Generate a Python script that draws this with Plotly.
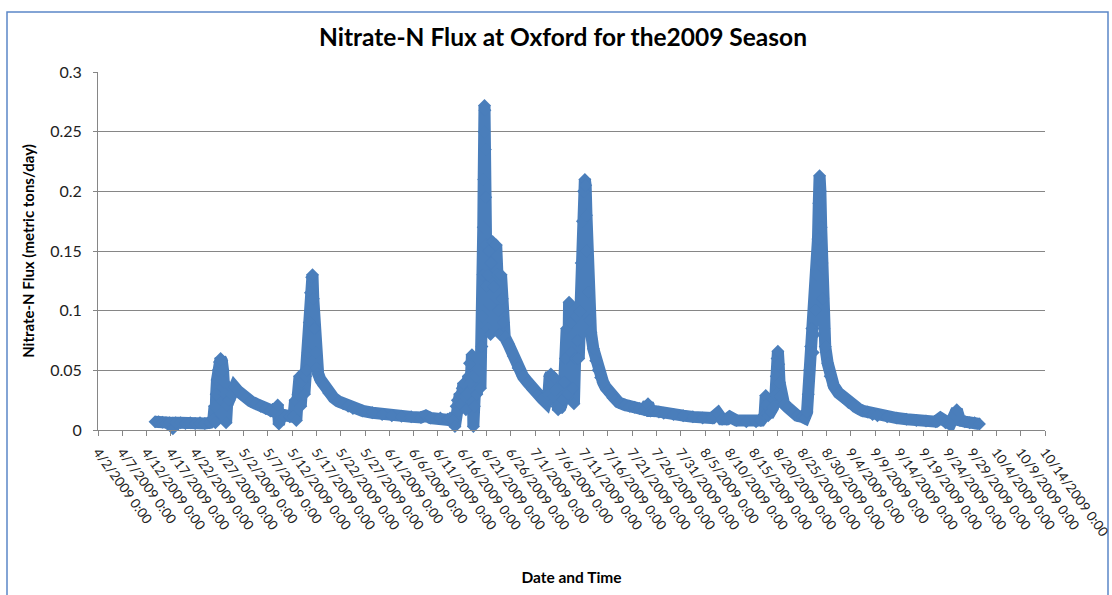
import plotly.graph_objects as go

# ---- data (date/time, Nitrate-N flux in metric tons/day) ----
apr_times = ["2009-04-13 18:00", "2009-04-14 12:00", "2009-04-15 06:00", "2009-04-16 00:00", "2009-04-16 18:00",
             "2009-04-17 10:00", "2009-04-18 00:00", "2009-04-19 00:00", "2009-04-20 00:00", "2009-04-21 00:00",
             "2009-04-22 00:00", "2009-04-23 00:00", "2009-04-24 00:00", "2009-04-25 00:00", "2009-04-25 18:00",
             "2009-04-26 00:00", "2009-04-26 04:00", "2009-04-26 08:00", "2009-04-26 12:00", "2009-04-26 18:00",
             "2009-04-27 00:00", "2009-04-27 06:00", "2009-04-27 12:00", "2009-04-27 18:00", "2009-04-28 00:00",
             "2009-04-28 05:00", "2009-04-28 09:00", "2009-04-28 14:00", "2009-04-29 00:00", "2009-04-29 12:00",
             "2009-04-30 03:00", "2009-04-30 18:00"]
apr_flux = [0.007, 0.007, 0.0065, 0.006, 0.006, 0.001, 0.006, 0.006, 0.0055, 0.006, 0.0055, 0.006, 0.0055, 0.006,
            0.009, 0.020, 0.006, 0.030, 0.042, 0.050, 0.057, 0.060, 0.058, 0.050, 0.040, 0.030, 0.006, 0.021,
            0.025, 0.030, 0.036, 0.033]

may_times = ["2009-05-01 12:00", "2009-05-02 12:00", "2009-05-03 12:00", "2009-05-04 12:00", "2009-05-05 12:00",
             "2009-05-06 12:00", "2009-05-07 12:00", "2009-05-08 12:00", "2009-05-09 00:00", "2009-05-09 06:00",
             "2009-05-09 18:00", "2009-05-10 12:00", "2009-05-11 12:00", "2009-05-12 06:00", "2009-05-12 14:00",
             "2009-05-12 20:00", "2009-05-13 04:00", "2009-05-13 12:00", "2009-05-13 18:00", "2009-05-14 00:00",
             "2009-05-14 06:00", "2009-05-14 12:00", "2009-05-14 18:00", "2009-05-15 00:00", "2009-05-15 06:00",
             "2009-05-15 12:00", "2009-05-15 18:00", "2009-05-16 00:00", "2009-05-16 04:00", "2009-05-16 08:00",
             "2009-05-16 12:00", "2009-05-16 18:00", "2009-05-17 00:00", "2009-05-17 08:00", "2009-05-17 20:00",
             "2009-05-18 12:00", "2009-05-19 12:00", "2009-05-20 12:00", "2009-05-21 12:00", "2009-05-22 12:00",
             "2009-05-23 12:00", "2009-05-24 12:00", "2009-05-26 12:00", "2009-05-28 12:00", "2009-05-30 12:00",
             "2009-06-01 12:00", "2009-06-03 12:00", "2009-06-05 12:00", "2009-06-07 12:00", "2009-06-08 12:00",
             "2009-06-09 12:00", "2009-06-11 12:00", "2009-06-13 00:00"]
may_flux = [0.030, 0.027, 0.024, 0.022, 0.020, 0.018, 0.016, 0.015, 0.021, 0.005, 0.013, 0.012, 0.011, 0.011,
            0.025, 0.008, 0.030, 0.045, 0.020, 0.040, 0.048, 0.030, 0.045, 0.050, 0.065, 0.090, 0.115, 0.128,
            0.130, 0.110, 0.085, 0.065, 0.052, 0.047, 0.042, 0.037, 0.031, 0.027, 0.024, 0.022, 0.020, 0.018,
            0.016, 0.0145, 0.013, 0.012, 0.0115, 0.011, 0.0105, 0.012, 0.010, 0.010, 0.009]

jun_times = ["2009-06-13 12:00", "2009-06-14 06:00", "2009-06-14 12:00", "2009-06-14 18:00", "2009-06-15 00:00",
             "2009-06-15 06:00", "2009-06-15 12:00", "2009-06-15 18:00", "2009-06-16 00:00", "2009-06-16 06:00",
             "2009-06-16 12:00", "2009-06-16 18:00", "2009-06-17 00:00", "2009-06-17 06:00", "2009-06-17 12:00",
             "2009-06-17 18:00", "2009-06-18 00:00", "2009-06-18 04:00", "2009-06-18 07:00", "2009-06-18 12:00",
             "2009-06-18 18:00", "2009-06-19 00:00", "2009-06-19 06:00", "2009-06-19 12:00", "2009-06-19 18:00",
             "2009-06-20 01:00", "2009-06-20 04:00", "2009-06-20 06:00", "2009-06-20 08:00", "2009-06-20 10:00",
             "2009-06-20 12:00", "2009-06-20 14:00", "2009-06-20 16:00", "2009-06-20 18:00", "2009-06-20 20:00",
             "2009-06-20 22:00", "2009-06-21 00:00", "2009-06-21 04:00", "2009-06-21 08:00", "2009-06-21 12:00",
             "2009-06-21 16:00", "2009-06-21 20:00", "2009-06-22 00:00", "2009-06-22 06:00", "2009-06-22 12:00",
             "2009-06-22 18:00", "2009-06-23 00:00", "2009-06-23 06:00", "2009-06-23 12:00", "2009-06-23 18:00",
             "2009-06-24 00:00", "2009-06-24 06:00", "2009-06-24 12:00", "2009-06-24 18:00", "2009-06-25 12:00",
             "2009-06-26 12:00", "2009-06-27 12:00", "2009-06-28 12:00", "2009-06-29 12:00", "2009-06-30 12:00",
             "2009-07-01 12:00", "2009-07-02 12:00", "2009-07-03 06:00"]
jun_flux = [0.010, 0.008, 0.003, 0.020, 0.025, 0.016, 0.030, 0.022, 0.035, 0.039, 0.028, 0.017, 0.030, 0.045,
            0.056, 0.040, 0.063, 0.045, 0.003, 0.020, 0.045, 0.030, 0.060, 0.050, 0.035, 0.070, 0.095, 0.130,
            0.170, 0.210, 0.250, 0.272, 0.268, 0.235, 0.195, 0.155, 0.120, 0.085, 0.130, 0.150, 0.105, 0.080,
            0.140, 0.158, 0.120, 0.085, 0.155, 0.130, 0.100, 0.080, 0.130, 0.110, 0.090, 0.078, 0.072, 0.062,
            0.052, 0.045, 0.040, 0.034, 0.030, 0.026, 0.023]

jul_times = ["2009-07-03 18:00", "2009-07-04 00:00", "2009-07-04 06:00", "2009-07-04 12:00", "2009-07-04 18:00",
             "2009-07-05 00:00", "2009-07-05 06:00", "2009-07-05 12:00", "2009-07-05 18:00", "2009-07-06 06:00",
             "2009-07-06 18:00", "2009-07-07 00:00", "2009-07-07 06:00", "2009-07-07 12:00", "2009-07-07 18:00",
             "2009-07-08 00:00", "2009-07-08 06:00", "2009-07-08 12:00", "2009-07-08 18:00", "2009-07-09 00:00",
             "2009-07-09 06:00", "2009-07-09 12:00", "2009-07-09 18:00", "2009-07-10 00:00", "2009-07-10 06:00",
             "2009-07-10 12:00", "2009-07-10 18:00", "2009-07-11 00:00", "2009-07-11 06:00", "2009-07-11 10:00",
             "2009-07-11 14:00", "2009-07-11 18:00", "2009-07-12 00:00", "2009-07-12 06:00", "2009-07-12 12:00",
             "2009-07-13 00:00", "2009-07-13 12:00", "2009-07-14 00:00", "2009-07-14 12:00", "2009-07-15 00:00",
             "2009-07-15 12:00", "2009-07-16 00:00", "2009-07-16 12:00", "2009-07-17 00:00", "2009-07-17 12:00",
             "2009-07-18 06:00", "2009-07-19 12:00", "2009-07-20 12:00", "2009-07-21 12:00", "2009-07-22 12:00",
             "2009-07-23 12:00", "2009-07-24 06:00", "2009-07-24 18:00", "2009-07-25 12:00", "2009-07-26 12:00",
             "2009-07-27 12:00", "2009-07-29 12:00", "2009-07-31 12:00", "2009-08-02 12:00", "2009-08-04 12:00",
             "2009-08-06 12:00", "2009-08-07 15:00", "2009-08-08 12:00", "2009-08-09 12:00", "2009-08-10 03:00",
             "2009-08-11 12:00", "2009-08-13 12:00", "2009-08-15 12:00", "2009-08-16 12:00", "2009-08-17 06:00"]
jul_flux = [0.030, 0.045, 0.047, 0.038, 0.028, 0.044, 0.033, 0.020, 0.017, 0.019, 0.025, 0.040, 0.060, 0.085,
            0.030, 0.107, 0.090, 0.065, 0.035, 0.022, 0.060, 0.095, 0.075, 0.060, 0.100, 0.140, 0.175, 0.200,
            0.210, 0.205, 0.180, 0.150, 0.115, 0.092, 0.082, 0.068, 0.058, 0.050, 0.044, 0.040, 0.036, 0.033,
            0.030, 0.027, 0.025, 0.023, 0.021, 0.020, 0.019, 0.018, 0.017, 0.022, 0.016, 0.016, 0.015, 0.014,
            0.013, 0.012, 0.011, 0.010, 0.010, 0.014, 0.009, 0.009, 0.011, 0.008, 0.007, 0.007, 0.008, 0.012]

aug_times = ["2009-08-17 12:00", "2009-08-17 15:00", "2009-08-18 00:00", "2009-08-18 12:00", "2009-08-19 00:00",
             "2009-08-19 12:00", "2009-08-19 16:00", "2009-08-19 20:00", "2009-08-20 00:00", "2009-08-20 04:00",
             "2009-08-20 08:00", "2009-08-20 14:00", "2009-08-21 06:00", "2009-08-22 00:00", "2009-08-23 00:00",
             "2009-08-24 00:00", "2009-08-25 00:00", "2009-08-25 12:00", "2009-08-26 00:00", "2009-08-26 06:00",
             "2009-08-26 12:00", "2009-08-26 18:00", "2009-08-27 00:00", "2009-08-27 06:00", "2009-08-27 12:00",
             "2009-08-27 18:00", "2009-08-28 00:00", "2009-08-28 06:00", "2009-08-28 10:00", "2009-08-28 14:00",
             "2009-08-28 18:00", "2009-08-28 22:00", "2009-08-29 02:00", "2009-08-29 06:00", "2009-08-29 12:00",
             "2009-08-29 18:00", "2009-08-30 06:00", "2009-08-30 18:00"]
aug_flux = [0.029, 0.021, 0.012, 0.015, 0.019, 0.030, 0.045, 0.060, 0.066, 0.055, 0.040, 0.028, 0.022, 0.019,
            0.015, 0.012, 0.011, 0.010, 0.015, 0.030, 0.050, 0.070, 0.085, 0.065, 0.080, 0.100, 0.130, 0.160,
            0.190, 0.213, 0.200, 0.170, 0.140, 0.110, 0.085, 0.070, 0.056, 0.045]

sep_times = ["2009-08-31 12:00", "2009-09-01 12:00", "2009-09-02 12:00", "2009-09-03 12:00", "2009-09-04 12:00",
             "2009-09-05 12:00", "2009-09-06 12:00", "2009-09-07 12:00", "2009-09-08 12:00", "2009-09-09 12:00",
             "2009-09-11 12:00", "2009-09-13 12:00", "2009-09-15 12:00", "2009-09-17 12:00", "2009-09-19 12:00",
             "2009-09-21 12:00", "2009-09-22 12:00", "2009-09-23 12:00", "2009-09-24 12:00", "2009-09-25 20:00",
             "2009-09-26 12:00", "2009-09-27 12:00", "2009-09-28 12:00", "2009-09-29 12:00", "2009-09-30 12:00"]
sep_flux = [0.037, 0.031, 0.027, 0.023, 0.020, 0.018, 0.016, 0.015, 0.013, 0.012, 0.011, 0.010, 0.009, 0.008,
            0.0075, 0.007, 0.010, 0.006, 0.005, 0.017, 0.008, 0.007, 0.006, 0.006, 0.005]

title_text = "Nitrate-N Flux at Oxford for the2009 Season"
x_title = "Date and Time"
y_title = "Nitrate-N Flux (metric tons/day)"

segments = [(apr_times, apr_flux), (may_times, may_flux), (jun_times, jun_flux),
            (jul_times, jul_flux), (aug_times, aug_flux), (sep_times, sep_flux)]
times, flux = [], []
for t, v in segments:
    assert len(t) == len(v)
    times += t
    flux += v

BLUE = "#4A7EBB"
GRAY = "#868686"
FONT = "Lato"

fig = go.Figure(go.Scatter(
    x=times, y=flux, mode="lines+markers", name="Nitrate-N Flux",
    line=dict(color=BLUE, width=12),
    marker=dict(symbol="diamond", size=10, color=BLUE),
    cliponaxis=False, showlegend=False))

L, R, T, B = 98, 1045, 72, 430
W, H = 1112, 595
fig.update_layout(
    width=W, height=H, template="none",
    paper_bgcolor="white", plot_bgcolor="white",
    margin=dict(l=L, r=W - R, t=T, b=H - B),
    font=dict(family=FONT, color="#1a1a1a"),
    title=dict(text="<b>" + title_text + "</b>", xref="container", yref="container",
               x=563 / W, xanchor="center", y=1 - 37 / H, yanchor="middle",
               font=dict(family=FONT, size=24.5, color="#000000")),
    xaxis=dict(type="date", range=["2009-04-02", "2009-10-14 00:01"],
               tick0="2009-04-02", dtick=5 * 86400000,
               tickformat="%-m/%-d/%Y %-H:%M", tickangle=54,
               ticks="outside", ticklen=5, tickcolor=GRAY,
               ticklabeloverflow="allow", ticklabelstandoff=3,
               showline=True, linecolor=GRAY, linewidth=1,
               showgrid=False, zeroline=False, automargin=False,
               tickfont=dict(family=FONT, size=13.5, color="#222222"),
               title=dict(text="<b>" + x_title + "</b>", standoff=33,
                          font=dict(family=FONT, size=15.5, color="#000000"))),
    yaxis=dict(range=[0, 0.3], tick0=0, dtick=0.05,
               ticks="outside", ticklen=4, tickcolor=GRAY,
               showline=True, linecolor=GRAY, linewidth=1,
               showgrid=True, gridcolor=GRAY, gridwidth=1,
               zeroline=False, automargin=False, ticklabelstandoff=8,
               tickfont=dict(family=FONT, size=16, color="#222222"),
               title=dict(text="<b>" + y_title + "</b>", standoff=11,
                          font=dict(family=FONT, size=15, color="#000000"))),
)

# outer chart-area border
def px_x(p):
    return (p - L) / (R - L)

def px_y(p):
    return (B - p) / (B - T)

fig.add_shape(type="rect", xref="paper", yref="paper",
              x0=px_x(7), x1=px_x(1108), y0=px_y(620), y1=px_y(12),
              line=dict(color="#5B87C7", width=1.5), fillcolor="rgba(0,0,0,0)", layer="below")

fig.write_html("out.html", config={"displayModeBar": False},
               post_script="document.body.style.margin='0px';")
